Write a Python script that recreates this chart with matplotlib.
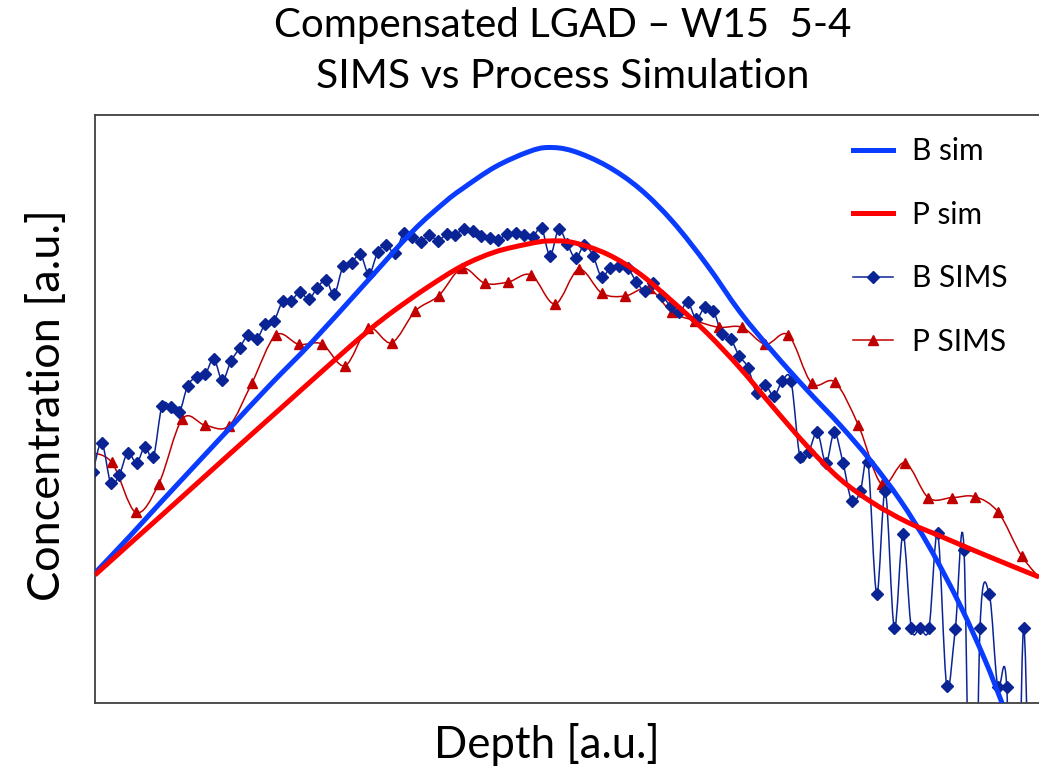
import numpy as np
import matplotlib
matplotlib.use("Agg")
import matplotlib.pyplot as plt
from matplotlib.path import Path
from matplotlib.patches import PathPatch
from matplotlib.lines import Line2D

plt.rcParams['font.family'] = ['Lato', 'DejaVu Sans']

# values (depth and concentration in a.u.)
b_sim_depth = [0, 35, 67, 133, 175, 217, 267, 317, 350, 367, 400, 433, 453, 478, 512,
               545, 578, 612, 645, 678, 712, 745, 775, 805, 835, 865, 890, 907, 915]
b_sim_conc = [130, 167, 202, 273, 318, 361, 416, 471, 501, 514, 536, 551, 555.5, 552, 537,
              514, 481, 438, 391, 351, 313, 278, 243, 203, 155, 98, 43, 0, -22]

p_sim_depth = [0, 35, 67, 133, 185, 233, 273, 300, 333, 367, 400, 433, 453, 478, 512,
               545, 578, 612, 645, 678, 712, 745, 778, 812, 845, 878, 912, 944]
p_sim_conc = [128, 159.5, 188, 247.5, 294, 337, 372, 393, 416, 437, 451, 459, 462, 460.5, 449,
              429, 401, 370, 335, 296, 257, 224, 200, 181, 167, 153, 139, 126]

b_sims_depth = [-2, 6.7, 15.7, 24.3, 32.7, 41.7, 50, 58.3, 67, 75.7, 84.3, 92.7, 101.7, 110.3,
                118.7, 127.3, 136, 144.7, 153.3, 161.7, 170.3, 179, 187.7, 196.3, 205, 213.7,
                222.3, 231, 239.3, 248, 256.7, 265.3, 274, 282.7, 291.3, 300, 308.7, 317.3,
                326, 334.3, 343, 351.7, 360.3, 369, 377.7, 386.3, 394.7, 403.3, 412, 420.7,
                429.3, 437.7, 446.5, 455, 463.7, 472.3, 480.7, 489.3, 498, 506.7, 515, 524,
                532.7, 541.3, 549.7, 558.3, 567.3, 575.7, 584.3, 592.7, 601.3, 609.7, 618.3,
                627, 635.7, 644.3, 653, 661.7, 670.3, 679, 687.3, 696, 705, 713.7, 722.3, 731,
                739.3, 748, 756.7, 765.3, 773, 781.7, 790.3, 799.3, 808, 816.3, 825, 834,
                842.7, 851.7, 860.3, 869, 877.7, 885, 894.3, 902.7, 911.7, 920, 928.7, 937]
b_sims_conc = [231, 260.3, 220.3, 228, 250.3, 240.3, 256.3, 245.7, 297, 296.3, 291, 317.3,
               326.3, 328.7, 344.3, 322.7, 341.7, 355.3, 368, 364, 379, 382.3, 401.7, 402.3,
               411.3, 403.7, 415.3, 423, 408.7, 436.7, 440.3, 448.7, 429, 450.7, 458.3, 449.7,
               469.7, 465.7, 461.3, 467.7, 462.3, 469, 468.3, 474.3, 472, 467, 464.7, 463,
               469.3, 469.7, 468.3, 466.3, 475, 447.3, 473.7, 458.7, 444.7, 457.7, 447.3,
               425.7, 435.3, 436.7, 435, 421.3, 412.3, 420, 407.3, 397, 390.7, 400.7, 384,
               395.7, 392.3, 368.7, 363.7, 347, 335.5, 310, 317.8, 307, 322, 322.3, 245.7,
               251.3, 270.7, 240, 270.7, 240.3, 202.3, 211.7, 240.7, 109, 212, 75, 168.7, 75,
               75, 75, 169.7, 17.3, 74, 153, -300, 74.7, 108.7, 16.3, 16.3, -300, 74.7, -300]

p_sims_depth = [-7, 16.7, 40.7, 63.7, 87.3, 110.3, 134, 157, 180.7, 203.7, 227, 250, 273.3,
                296.7, 320.3, 343.7, 367, 390, 413.3, 436.3, 460, 483.7, 507, 530.3, 553.7,
                577, 600.3, 623.7, 647, 670.3, 693.3, 716.7, 740, 763.3, 786.7, 810, 833.3,
                856.7, 880, 903.3, 926.7, 950]
p_sims_conc = [251, 240.7, 190.7, 219, 284, 277.7, 277.3, 320.3, 367.7, 358.7, 359, 337.3,
               374.7, 360.3, 392, 407.3, 434.7, 419.7, 421, 428, 399, 433.7, 409.7, 407,
               414.7, 390.7, 382.3, 375.7, 375.7, 358.7, 368, 319.7, 320.7, 278, 218.7,
               240.3, 205.3, 205.3, 206.3, 190.7, 147, 119]


def smooth_path(x, y):
    # Catmull-Rom style smoothed line through the points
    pts = np.column_stack([x, y]).astype(float)
    n = len(pts)
    verts = [pts[0]]
    codes = [Path.MOVETO]
    for i in range(n - 1):
        p0 = pts[max(i - 1, 0)]
        p1 = pts[i]
        p2 = pts[i + 1]
        p3 = pts[min(i + 2, n - 1)]
        verts += [p1 + (p2 - p0) / 6, p2 - (p3 - p1) / 6, p2]
        codes += [Path.CURVE4] * 3
    return Path(verts, codes)


fig = plt.figure(figsize=(10.39, 7.71), dpi=100)
ax = fig.add_axes([95 / 1039, 68 / 771, 944 / 1039, 588 / 771])

b_sim_col = '#0A3CFF'
p_sim_col = '#FF0000'
b_sims_col = '#0A2496'
p_sims_col = '#C00000'

ax.add_patch(PathPatch(smooth_path(p_sims_depth, p_sims_conc), fill=False,
                       edgecolor=p_sims_col, lw=1.1, zorder=2))
ax.plot(p_sims_depth, p_sims_conc, ls='none', marker='^', ms=7.5, color=p_sims_col, zorder=3)

ax.add_patch(PathPatch(smooth_path(b_sims_depth, b_sims_conc), fill=False,
                       edgecolor=b_sims_col, lw=1.1, zorder=2))
ax.plot(b_sims_depth, b_sims_conc, ls='none', marker='D', ms=6.2, color=b_sims_col, zorder=3)

ax.add_patch(PathPatch(smooth_path(b_sim_depth, b_sim_conc), fill=False,
                       edgecolor=b_sim_col, lw=3.6, zorder=4, joinstyle='round'))
ax.add_patch(PathPatch(smooth_path(p_sim_depth, p_sim_conc), fill=False,
                       edgecolor=p_sim_col, lw=3.6, zorder=4, joinstyle='round'))

ax.set_xlim(0, 944)
ax.set_ylim(0, 588)
ax.set_xticks([])
ax.set_yticks([])
ax.spines['right'].set_visible(False)
for s in ['left', 'top', 'bottom']:
    ax.spines[s].set_color('#404040')
    ax.spines[s].set_linewidth(1.3)

handles = [
    Line2D([], [], color=b_sim_col, lw=3.6),
    Line2D([], [], color=p_sim_col, lw=3.6),
    Line2D([], [], color=b_sims_col, lw=1.1, marker='D', ms=6.2),
    Line2D([], [], color=p_sims_col, lw=1.1, marker='^', ms=7.5),
]
labels = ['B sim', 'P sim', 'B SIMS', 'P SIMS']
fig.legend(handles, labels, loc='upper left', bbox_to_anchor=(853 / 1039, 1 - 137 / 771),
           frameon=False, fontsize=21.5, borderpad=0, borderaxespad=0,
           handlelength=1.34, handletextpad=0.64, labelspacing=1.19)

fig.text(563 / 1039, 1 - 25 / 771, 'Compensated LGAD \u2013 W15  5-4',
         ha='center', va='center', fontsize=29)
fig.text(563 / 1039, 1 - 77 / 771, 'SIMS vs Process Simulation',
         ha='center', va='center', fontsize=29.5)
fig.text(547 / 1039, 1 - 745 / 771, 'Depth [a.u.]', ha='center', va='center', fontsize=31.5)
fig.text(48 / 1039, 1 - 405 / 771, 'Concentration [a.u.]', ha='center', va='center',
         rotation=90, fontsize=32.5)

fig.savefig('out.png', dpi=100)
